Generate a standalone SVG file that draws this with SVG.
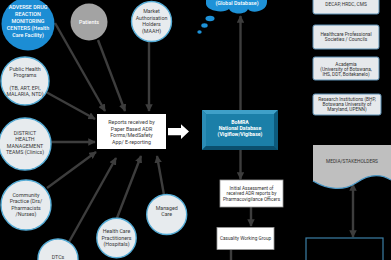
<svg xmlns="http://www.w3.org/2000/svg" width="391" height="260" viewBox="0 0 391 260">
  <defs>
    <marker id="ah" viewBox="0 0 10 10" refX="9" refY="5" markerWidth="7.5" markerHeight="7.5" markerUnits="userSpaceOnUse" orient="auto">
      <path d="M0,0 L10,5 L0,10 z" fill="#3d3d3d"/>
    </marker>
    <marker id="ahs" viewBox="0 0 10 10" refX="9" refY="5" markerWidth="7.5" markerHeight="7.5" markerUnits="userSpaceOnUse" orient="auto-start-reverse">
      <path d="M0,0 L10,5 L0,10 z" fill="#3d3d3d"/>
    </marker>
  </defs>
  <style>
    text { font-family: Roboto, "Liberation Sans", sans-serif; text-anchor: middle; }
    .lc { fill: #e7ebee; stroke: #55acd6; stroke-width: 1.4; }
    .lt { font-size: 5.3px; fill: #3a3a3a; }
    .wt { font-size: 5.4px; fill: #ffffff; font-weight: 500; }
    .bt { font-size: 5.2px; fill: #ffffff; font-weight: bold; }
    .rb { fill: #e6e9ec; stroke: #5d90b4; stroke-width: 1; }
    .rt { font-size: 4.8px; fill: #333333; }
    .conn { stroke: #3d3d3d; stroke-width: 2.4; fill: none; }
    .wb { fill: #ffffff; stroke: #9a9a9a; stroke-width: 0.8; }
    .st { font-size: 4.7px; fill: #333333; }
  </style>

  <rect x="0" y="0" width="391" height="260" fill="#000000"/>

  <!-- connectors -->
  <g id="connectors">
    <line class="conn" x1="55" y1="23" x2="105" y2="111" marker-end="url(#ah)"/>
    <line class="conn" x1="98" y1="40" x2="125" y2="111" marker-end="url(#ah)"/>
    <line class="conn" x1="149" y1="42" x2="149" y2="111" marker-end="url(#ah)"/>
    <line class="conn" x1="46" y1="92" x2="95" y2="119" marker-end="url(#ah)"/>
    <line class="conn" x1="51" y1="142" x2="95" y2="142" marker-end="url(#ah)"/>
    <line class="conn" x1="47" y1="188" x2="96" y2="152" marker-end="url(#ah)"/>
    <line class="conn" x1="69" y1="242" x2="116" y2="158" marker-end="url(#ah)"/>
    <line class="conn" x1="117" y1="218" x2="141" y2="156" marker-end="url(#ah)"/>
    <line class="conn" x1="164" y1="195" x2="157" y2="156" marker-end="url(#ah)"/>
    <!-- BoMRA up to the global database -->
    <line class="conn" x1="240.5" y1="110" x2="240.5" y2="16" marker-end="url(#ah)"/>
    <!-- BoMRA down to initial assessment -->
    <line class="conn" x1="240.5" y1="150" x2="240.5" y2="179" marker-end="url(#ah)"/>
    <!-- initial assessment to casualty working group -->
    <line class="conn" x1="251" y1="207" x2="251" y2="226" marker-end="url(#ah)"/>
    <!-- casualty working group onward -->
    <line class="conn" x1="231" y1="250" x2="231" y2="262"/>
    <!-- media two-way link -->
    <line class="conn" x1="353" y1="184" x2="353" y2="237" marker-start="url(#ahs)" marker-end="url(#ah)"/>
    <!-- block arrow into BoMRA -->
    <polygon points="168,128 181,128 181,124.3 189,131.6 181,139 181,135.2 168,135.2" fill="#ffffff"/>
  </g>

  <!-- global database cloud -->
  <g id="global-db">
    <path d="M206,-6 L206,3 C205,11 224,14 229,9 C232,15 246,15 248,9 C251,14 267,12 267,2 L267,-6 Z" fill="#1e92d8"/>
    <ellipse cx="210" cy="18.5" rx="4.5" ry="2.8" fill="#1e92d8"/>
    <ellipse cx="204.5" cy="25.5" rx="3.2" ry="2.2" fill="#1e92d8"/>
    <ellipse cx="199.5" cy="32" rx="2.2" ry="1.7" fill="#1e92d8"/>
    <text class="wt" x="237" y="4.5">(Global Database)</text>
  </g>

  <!-- ADR monitoring centres -->
  <g id="adr-centres">
    <circle cx="28" cy="24" r="26.5" fill="#1c8dd4"/>
    <text class="wt" x="28" y="9">ADVERSE DRUG</text>
    <text class="wt" x="28" y="16">REACTION</text>
    <text class="wt" x="28" y="23">MONITORING</text>
    <text class="wt" x="28" y="30">CENTERS (Health</text>
    <text class="wt" x="28" y="37">Care Facility)</text>
  </g>

  <g id="patients">
    <circle cx="89" cy="22" r="18.5" fill="#a3a3a3"/>
    <text class="wt" x="89" y="24">Patients</text>
  </g>

  <g id="maah">
    <circle cx="151.5" cy="21.5" r="20" class="lc"/>
    <text class="lt" x="151.5" y="13">Market</text>
    <text class="lt" x="151.5" y="19.5">Authorisation</text>
    <text class="lt" x="151.5" y="26">Holders</text>
    <text class="lt" x="151.5" y="32.5">(MAAH)</text>
  </g>

  <g id="public-health">
    <circle cx="25" cy="81" r="24" class="lc"/>
    <text class="lt" x="25" y="70.5">Public Health</text>
    <text class="lt" x="25" y="76.5">Programs</text>
    <text class="lt" x="25" y="89.5">(TB, ART, EPI,</text>
    <text class="lt" x="25" y="95.5">MALARIA, NTD)</text>
  </g>

  <g id="dhmt">
    <circle cx="25" cy="144" r="26" class="lc"/>
    <text class="lt" x="25" y="135">DISTRICT</text>
    <text class="lt" x="25" y="141.3">HEALTH</text>
    <text class="lt" x="25" y="147.6">MANAGEMENT</text>
    <text class="lt" x="25" y="154">TEAMS (Clinics)</text>
  </g>

  <g id="community">
    <circle cx="26" cy="205" r="25" class="lc"/>
    <text class="lt" x="26" y="197">Community</text>
    <text class="lt" x="26" y="203.4">Practice (Drs/</text>
    <text class="lt" x="26" y="209.8">Pharmacists</text>
    <text class="lt" x="26" y="216">/Nurses)</text>
  </g>

  <g id="dtcs">
    <circle cx="58" cy="259" r="20" class="lc"/>
    <text class="lt" x="58" y="259">DTCs</text>
  </g>

  <g id="hcp">
    <circle cx="116.5" cy="238" r="19.7" class="lc"/>
    <text class="lt" x="116.5" y="233">Health Care</text>
    <text class="lt" x="116.5" y="239.5">Practitioners</text>
    <text class="lt" x="116.5" y="246">(Hospitals)</text>
  </g>

  <g id="managed-care">
    <circle cx="166.7" cy="214.5" r="20" class="lc"/>
    <text class="lt" x="166.7" y="209.5">Managed</text>
    <text class="lt" x="166.7" y="216">Care</text>
  </g>

  <g id="reports">
    <rect x="97" y="114" width="69" height="35" fill="#ffffff"/>
    <text class="lt" x="131.5" y="124">Reports received by</text>
    <text class="lt" x="131.5" y="130.5">Paper Based ADR</text>
    <text class="lt" x="131.5" y="137">Forms/MedSafety</text>
    <text class="lt" x="131.5" y="143.5">App/ E-reporting</text>
  </g>

  <g id="bomra">
    <rect x="202" y="110" width="76" height="40" fill="#0f6a91"/>
    <polygon points="202,110 278,110 274,114 206,114" fill="#3fa0c8"/>
    <polygon points="202,110 206,114 206,146 202,150" fill="#2b8db6"/>
    <polygon points="278,110 278,150 274,146 274,114" fill="#0c5a7c"/>
    <polygon points="202,150 278,150 274,146 206,146" fill="#0a4f6d"/>
    <rect x="206" y="114" width="68" height="32" fill="#1b7fa8"/>
    <text class="bt" x="240" y="124">BoMRA</text>
    <text class="bt" x="240" y="130">National Database</text>
    <text class="bt" x="240" y="136">(Vigiflow/Vigibase)</text>
  </g>

  <g id="initial-assessment">
    <rect x="220" y="180" width="63" height="27" class="wb"/>
    <text class="st" x="251.5" y="189.5">Initial Assessment of</text>
    <text class="st" x="251.5" y="195">received ADR reports by</text>
    <text class="st" x="251.5" y="200.5">Pharmacovigilance Officers</text>
  </g>

  <g id="casualty-group">
    <rect x="217" y="227.5" width="57" height="22" class="wb"/>
    <text class="st" x="245.5" y="240">Casuality Working Group</text>
  </g>

  <g id="decap">
    <rect x="313" y="-10" width="66" height="24" rx="2" class="rb"/>
    <text class="rt" x="346" y="6">DECAP, HRDC, CMS</text>
  </g>

  <g id="societies">
    <rect x="313" y="25" width="66" height="24" rx="2" class="rb"/>
    <text class="rt" x="346" y="35.5">Healthcare Professional</text>
    <text class="rt" x="346" y="40.5">Societies / Councils</text>
  </g>

  <g id="academia">
    <rect x="313" y="57" width="66" height="23" rx="2" class="rb"/>
    <text class="rt" x="346" y="65.5">Academia</text>
    <text class="rt" x="346" y="70.5">(University of Botswana,</text>
    <text class="rt" x="346" y="75.5">IHS, DDT, Boitekanelo)</text>
  </g>

  <g id="research">
    <rect x="313" y="94" width="68" height="21" rx="2" class="rb"/>
    <text class="rt" x="347" y="100.5">Research Institutions (BHP,</text>
    <text class="rt" x="347" y="105.5">Botswana University of</text>
    <text class="rt" x="347" y="110.5">Maryland, UPENN)</text>
  </g>

  <g id="media">
    <path d="M313,145 H391 V180 C378,172 366,176 356,183 C344,191 328,190 313,181 Z" fill="#bfbfbf"/>
    <path d="M313,181 C328,190 344,191 356,183 C366,176 378,172 391,180" fill="none" stroke="#4d9ac8" stroke-width="1.2"/>
    <text class="rt" x="352" y="162.5">MEDIA/STAKEHOLDERS</text>
  </g>

  <g id="outcome">
    <rect x="306" y="238" width="77" height="30" fill="none" stroke="#3b7fa6" stroke-width="1.2"/>
  </g>
</svg>
